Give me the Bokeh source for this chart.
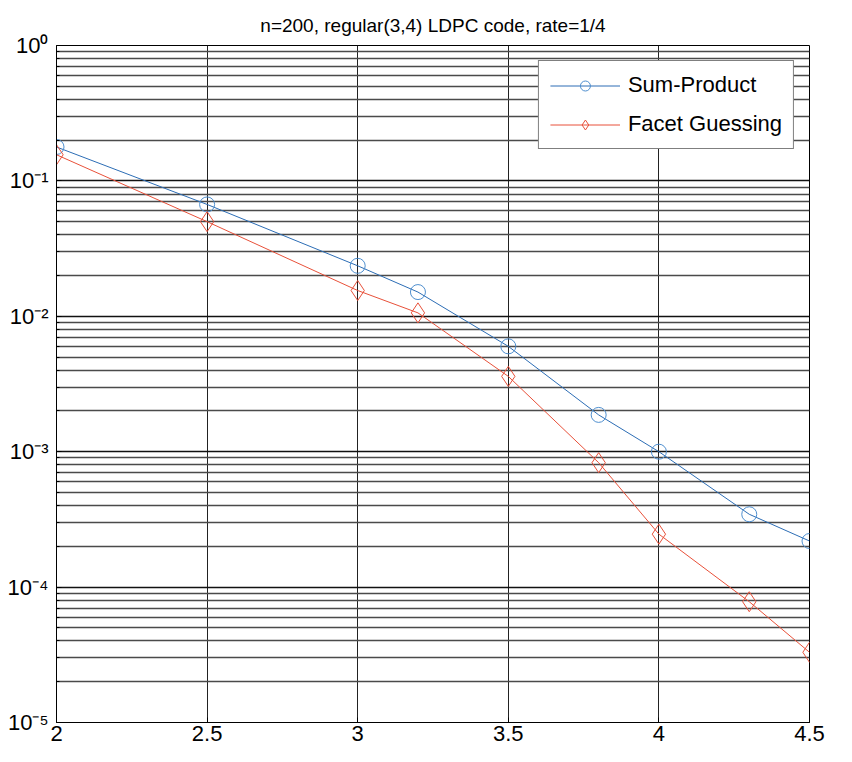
from bokeh.plotting import figure
from bokeh.models import FixedTicker, Legend, LegendItem, Title
from bokeh.embed import file_html
from bokeh.resources import INLINE

# ---- data ----
snr = [2.0, 2.5, 3.0, 3.2, 3.5, 3.8, 4.0, 4.3, 4.5]
sum_product = [0.178, 0.067, 0.0236, 0.0151, 0.0060, 0.00187, 0.00100, 0.000345, 0.000219]
facet_guessing = [0.156, 0.050, 0.0155, 0.0106, 0.0036, 0.00083, 0.000246, 0.000078, 0.000033]
x_ticks = [2, 2.5, 3, 3.5, 4, 4.5]
x_tick_labels = ["2", "2.5", "3", "3.5", "4", "4.5"]
y_exponents = [-5, -4, -3, -2, -1, 0]
y_tick_labels = ["10⁻⁵", "10⁻⁴", "10⁻³", "10⁻²", "10⁻¹", "10⁰"]
title_text = "n=200, regular(3,4) LDPC code, rate=1/4"
series_names = ["Sum-Product", "Facet Guessing"]

FONT = "Liberation Sans"
BLUE_LINE = "#2c6db5"
BLUE_MARK = "#4f8fcf"
RED = "#e8513a"

p = figure(width=836, height=746, y_axis_type="log",
           x_range=(2, 4.5), y_range=(1e-5, 1),
           output_backend="svg", toolbar_location=None,
           min_border_left=56, min_border_right=27,
           min_border_top=45, min_border_bottom=24)

p.title = Title(text=title_text, align="center", text_font=FONT,
                text_font_size="19px", text_font_style="normal",
                text_color="black", standoff=20)

y_major = [10.0 ** e for e in y_exponents]
y_minor = [k * 10.0 ** e for e in y_exponents[:-1] for k in range(2, 10)]

p.xaxis.ticker = FixedTicker(ticks=x_ticks)
p.xaxis.major_label_overrides = {t: l for t, l in zip(x_ticks, x_tick_labels)}
p.yaxis.ticker = FixedTicker(ticks=y_major, minor_ticks=y_minor)
p.yaxis.major_label_overrides = {v: l for v, l in zip(y_major, y_tick_labels)}

for ax in (p.xaxis, p.yaxis):
    ax.major_label_text_font = FONT
    ax.major_label_text_color = "black"
    ax.axis_line_color = "black"
    ax.major_tick_in = 5
    ax.major_tick_out = 0
    ax.minor_tick_in = 3
    ax.minor_tick_out = 0
    ax.major_tick_line_color = "black"
    ax.minor_tick_line_color = "black"
p.xaxis.major_label_text_font_size = "22px"
p.yaxis.major_label_text_font_size = "22px"
p.xaxis.major_label_standoff = 3
p.yaxis.major_label_standoff = 8

p.xgrid.grid_line_color = "#222222"
p.xgrid.grid_line_width = 1
p.ygrid.grid_line_color = "#111111"
p.ygrid.grid_line_width = 1.3
p.ygrid.minor_grid_line_color = "#4a4a4a"
p.ygrid.minor_grid_line_width = 1.5

p.outline_line_color = "black"
p.outline_line_width = 1
p.background_fill_color = "white"
p.border_fill_color = "white"

l1 = p.line(snr, sum_product, line_color=BLUE_LINE, line_width=1)
m1 = p.scatter(snr, sum_product, marker="circle", size=15,
               fill_color=None, line_color=BLUE_MARK, line_width=1)
l2 = p.line(snr, facet_guessing, line_color=RED, line_width=1)
m2 = p.scatter(snr, facet_guessing, marker="diamond", size=20,
               fill_color=None, line_color=RED, line_width=1)

legend = Legend(items=[LegendItem(label=series_names[0], renderers=[l1, m1]),
                       LegendItem(label=series_names[1], renderers=[l2, m2])],
                location="top_right", margin=15, padding=11,
                glyph_width=70, glyph_height=25, spacing=13,
                label_standoff=8, label_text_font=FONT,
                label_text_font_size="22px", label_text_color="black",
                border_line_color="black", border_line_width=1,
                background_fill_color="white", background_fill_alpha=1)
p.add_layout(legend, "center")

open("out.html", "w").write(file_html(p, INLINE))
